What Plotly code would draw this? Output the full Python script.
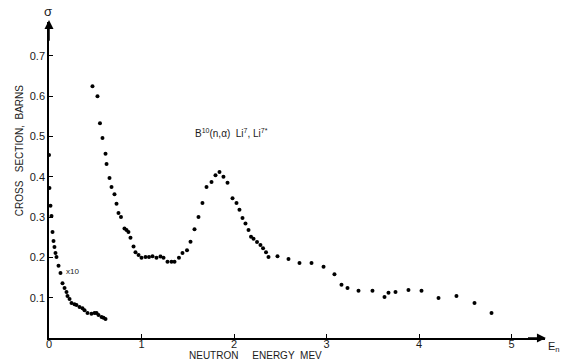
import plotly.graph_objects as go

# Low-energy series (plotted x10)
e_low = [0.000, 0.005, 0.016, 0.027, 0.038, 0.049, 0.059, 0.070, 0.081, 0.103,
         0.124, 0.146, 0.168, 0.189, 0.200, 0.222, 0.243, 0.276, 0.297, 0.330,
         0.362, 0.384, 0.416, 0.459, 0.492, 0.514, 0.535, 0.568, 0.589, 0.611]
s_low = [0.454, 0.372, 0.328, 0.303, 0.263, 0.241, 0.226, 0.211, 0.201, 0.179,
         0.161, 0.136, 0.124, 0.114, 0.104, 0.097, 0.087, 0.084, 0.082, 0.077,
         0.074, 0.069, 0.062, 0.060, 0.062, 0.062, 0.057, 0.052, 0.050, 0.047]

# Main series
e_main = [0.470, 0.524, 0.551, 0.578, 0.611, 0.622, 0.654, 0.676, 0.708, 0.730,
          0.751, 0.778, 0.816, 0.838, 0.859, 0.881, 0.914, 0.935, 0.968, 1.000,
          1.043, 1.081, 1.119, 1.162, 1.205, 1.238, 1.281, 1.324, 1.357, 1.405,
          1.443, 1.492, 1.530, 1.573, 1.616, 1.659, 1.703, 1.757, 1.800, 1.843,
          1.886, 1.930, 1.984, 2.027, 2.059, 2.092, 2.124, 2.157, 2.184, 2.211,
          2.249, 2.286, 2.314, 2.346, 2.373, 2.470, 2.589, 2.708, 2.838, 2.968,
          3.086, 3.162, 3.227, 3.346, 3.497, 3.627, 3.670, 3.746, 3.886, 4.027,
          4.211, 4.405, 4.600, 4.784]
s_main = [0.625, 0.600, 0.533, 0.496, 0.457, 0.432, 0.397, 0.375, 0.357, 0.333,
          0.310, 0.300, 0.272, 0.268, 0.263, 0.249, 0.227, 0.213, 0.206, 0.199,
          0.201, 0.201, 0.203, 0.199, 0.202, 0.199, 0.189, 0.189, 0.189, 0.199,
          0.211, 0.218, 0.239, 0.270, 0.300, 0.335, 0.375, 0.387, 0.404, 0.412,
          0.400, 0.385, 0.347, 0.335, 0.318, 0.298, 0.284, 0.268, 0.251, 0.246,
          0.238, 0.231, 0.223, 0.213, 0.201, 0.203, 0.196, 0.186, 0.186, 0.177,
          0.158, 0.132, 0.124, 0.117, 0.117, 0.102, 0.112, 0.114, 0.119, 0.117,
          0.099, 0.104, 0.087, 0.062]

x_ticks = [0, 1, 2, 3, 4, 5]
x_labels = ["0", "1", "2", "3", "4", "5"]
y_ticks = [0.1, 0.2, 0.3, 0.4, 0.5, 0.6, 0.7]
y_labels = ["0.1", "0.2", "0.3", "0.4", "0.5", "0.6", "0.7"]

FONT = "Liberation Sans"
INK = "#1a1a1a"

fig = go.Figure()
fig.add_trace(go.Scatter(x=e_low, y=s_low, mode="markers",
                         marker=dict(color="black", size=4), cliponaxis=False))
fig.add_trace(go.Scatter(x=e_main, y=s_main, mode="markers",
                         marker=dict(color="black", size=4), cliponaxis=False))

XMAX = 496 / 92.5
YMAX = 316 / 403

fig.update_layout(
    width=562, height=360,
    margin=dict(l=49, r=17, t=22, b=22),
    paper_bgcolor="white", plot_bgcolor="white",
    showlegend=False,
    font=dict(family=FONT, color=INK, size=11),
    xaxis=dict(range=[0, XMAX], showgrid=False, zeroline=False, automargin=False,
               showline=True, linecolor="black", linewidth=1.5,
               tickmode="array", tickvals=x_ticks, ticktext=x_labels,
               ticks="inside", ticklen=4, tickcolor="black",
               ticklabelstandoff=-5,
               tickfont=dict(family=FONT, size=11, color=INK)),
    yaxis=dict(range=[0, YMAX], showgrid=False, zeroline=False, automargin=False,
               showline=True, linecolor="black", linewidth=1.5,
               tickmode="array", tickvals=y_ticks, ticktext=y_labels,
               ticks="inside", ticklen=4, tickcolor="black",
               tickfont=dict(family=FONT, size=11, color=INK)),
)

# arrows on axes
fig.add_annotation(x=XMAX + 0.01, y=0, ax=XMAX - 0.2, ay=0, xref="x", yref="y",
                   axref="x", ayref="y", text="", showarrow=True,
                   arrowhead=2, arrowsize=1.2, arrowwidth=1.5, arrowcolor="black")
fig.add_annotation(x=0, y=YMAX + 0.005, ax=0, ay=YMAX - 0.05, xref="x", yref="y",
                   axref="x", ayref="y", text="", showarrow=True,
                   arrowhead=2, arrowsize=1.2, arrowwidth=1.5, arrowcolor="black")

def label(x, y, text, size, angle=0):
    fig.add_annotation(x=x, y=y, xref="paper", yref="paper", text=text,
                       xanchor="center", yanchor="middle", textangle=angle,
                       showarrow=False, font=dict(family=FONT, size=size, color=INK))

label(-0.002, 1.032, "σ", 13)
label(1.018, -0.028, "E<sub>n</sub>", 11)
label(-0.058, 0.592, "CROSS&nbsp;&nbsp;&nbsp;SECTION,&nbsp;&nbsp;BARNS", 10, -90)
label(0.417, -0.055, "NEUTRON&nbsp;&nbsp;&nbsp;&nbsp;&nbsp;ENERGY&nbsp;&nbsp;MEV", 10)

fig.add_annotation(x=0.25, y=0.166, xref="x", yref="y", text="x10",
                   showarrow=False, font=dict(family=FONT, size=8, color=INK))
fig.add_annotation(x=1.56, y=0.509, xref="x", yref="y", xanchor="left",
                   text="B<sup>10</sup>(n,α)&nbsp;&nbsp;Li<sup>7</sup>, Li<sup>7*</sup>",
                   showarrow=False, font=dict(family=FONT, size=10, color=INK))

fig.write_html("out.html")
